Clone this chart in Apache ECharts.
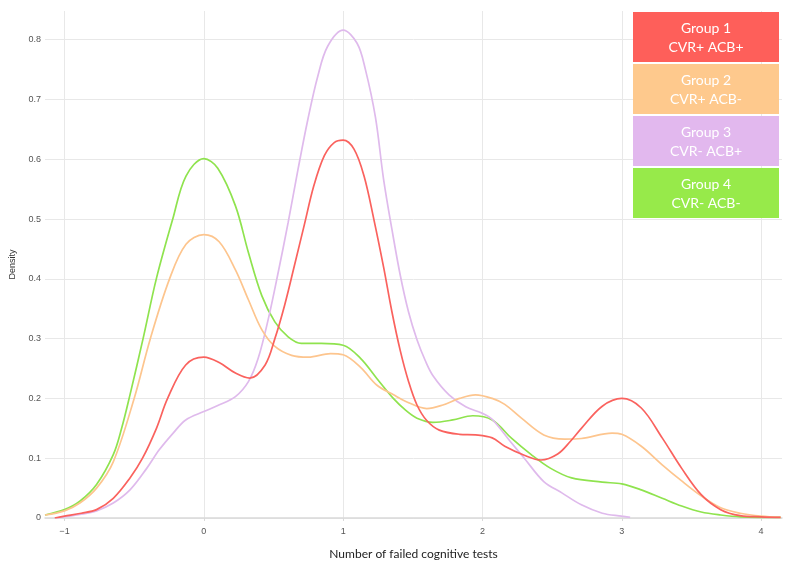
<!DOCTYPE html>
<html>
<head>
<meta charset="utf-8">
<script src="https://cdn.jsdelivr.net/npm/echarts@6/dist/echarts.min.js"></script>
<style>
  html, body { margin: 0; padding: 0; background: #fff; }
  #chart { width: 793px; height: 565px; }
</style>
</head>
<body>
<div id="chart"></div>
<script>
// density curves, [x, density]
var group1 = [[-1.07,0],[-1,0.003],[-0.88,0.008],[-0.77,0.014],[-0.65,0.033],[-0.53,0.067],[-0.44,0.1],[-0.34,0.15],[-0.26,0.2],[-0.13,0.256],[0,0.269],[0.11,0.26],[0.23,0.242],[0.33,0.234],[0.44,0.256],[0.51,0.3],[0.58,0.356],[0.65,0.422],[0.72,0.489],[0.79,0.556],[0.865,0.606],[0.936,0.628],[1,0.632],[1.078,0.617],[1.15,0.572],[1.22,0.5],[1.29,0.42],[1.35,0.345],[1.41,0.28],[1.47,0.228],[1.53,0.189],[1.6,0.163],[1.69,0.147],[1.835,0.14],[1.95,0.139],[2.07,0.134],[2.16,0.12],[2.3,0.105],[2.42,0.097],[2.54,0.107],[2.63,0.128],[2.71,0.15],[2.86,0.187],[3,0.2],[3.14,0.184],[3.29,0.134],[3.43,0.083],[3.57,0.039],[3.71,0.014],[3.85,0.004],[4,0.002],[4.14,0.001]];
var group2 = [[-1.14,0.005],[-1,0.012],[-0.89,0.025],[-0.77,0.05],[-0.65,0.094],[-0.5,0.2],[-0.384,0.3],[-0.246,0.4],[-0.128,0.458],[0,0.474],[0.11,0.462],[0.227,0.415],[0.32,0.365],[0.416,0.315],[0.51,0.287],[0.63,0.272],[0.75,0.269],[0.91,0.275],[1,0.273],[1.125,0.252],[1.243,0.222],[1.362,0.206],[1.45,0.195],[1.6,0.183],[1.716,0.189],[1.835,0.2],[1.95,0.206],[2.07,0.2],[2.16,0.19],[2.28,0.167],[2.44,0.139],[2.59,0.132],[2.71,0.133],[2.93,0.142],[3,0.14],[3.14,0.12],[3.29,0.089],[3.43,0.062],[3.57,0.037],[3.71,0.017],[3.85,0.008],[4,0.003],[4.14,0.001]];
var group3 = [[-1.06,0],[-0.89,0.006],[-0.77,0.012],[-0.65,0.025],[-0.53,0.047],[-0.41,0.083],[-0.32,0.114],[-0.22,0.142],[-0.13,0.164],[0,0.178],[0.1,0.188],[0.227,0.203],[0.32,0.228],[0.39,0.267],[0.463,0.333],[0.534,0.411],[0.605,0.494],[0.676,0.583],[0.747,0.667],[0.818,0.739],[0.889,0.789],[1,0.816],[1.1,0.794],[1.16,0.75],[1.232,0.67],[1.29,0.567],[1.35,0.483],[1.41,0.406],[1.47,0.344],[1.53,0.298],[1.59,0.263],[1.645,0.238],[1.76,0.206],[1.88,0.186],[2,0.175],[2.07,0.165],[2.2,0.128],[2.3,0.1],[2.44,0.061],[2.57,0.042],[2.71,0.022],[2.86,0.008],[3,0.003],[3.06,0.001]];
var group4 = [[-1.14,0.005],[-1,0.014],[-0.89,0.028],[-0.77,0.056],[-0.65,0.106],[-0.59,0.15],[-0.53,0.206],[-0.436,0.3],[-0.341,0.4],[-0.223,0.5],[-0.128,0.572],[0,0.601],[0.1,0.585],[0.227,0.522],[0.32,0.444],[0.416,0.372],[0.51,0.328],[0.605,0.303],[0.7,0.292],[0.842,0.292],[1,0.289],[1.125,0.267],[1.243,0.233],[1.36,0.2],[1.45,0.18],[1.53,0.167],[1.645,0.16],[1.787,0.164],[1.93,0.171],[2.07,0.164],[2.21,0.133],[2.35,0.106],[2.49,0.083],[2.64,0.067],[2.86,0.06],[3,0.057],[3.14,0.047],[3.29,0.033],[3.43,0.02],[3.57,0.01],[3.71,0.005],[3.85,0.002],[4.14,0.001]];

var groupNames = ['Group 1', 'Group 2', 'Group 3', 'Group 4'];
var groupLabels = ['CVR+ ACB+', 'CVR+ ACB-', 'CVR- ACB+', 'CVR- ACB-'];
var lineColors = ['#fa625e', '#fdc58e', '#dfbaec', '#8fe34e'];
var boxColors = ['#fe5f5a', '#fec98d', '#e2b8ee', '#97ea4a'];
var xTicks = [-1, 0, 1, 2, 3, 4];
var yTicks = [0, 0.1, 0.2, 0.3, 0.4, 0.5, 0.6, 0.7, 0.8];

var myChart = echarts.init(document.getElementById('chart'));

var allData = [group1, group2, group3, group4];
var series = [];
for (var i = 0; i < allData.length; i++) {
    series.push({
        name: groupNames[i],
        type: 'line',
        data: allData[i],
        smooth: 0.35,
        showSymbol: false,
        lineStyle: { color: lineColors[i], width: 1.7 },
        z: 10 - i
    });
}

// legend boxes, drawn as a little table top right
var graphics = [];
var boxTop = 12, boxH = 50, gap = 2;
for (var j = 0; j < groupNames.length; j++) {
    graphics.push({
        type: 'group',
        left: 633,
        top: boxTop + j * (boxH + gap),
        z: 100,
        children: [
            { type: 'rect', z: 100, shape: { x: 0, y: 0, width: 146, height: boxH }, style: { fill: boxColors[j] } },
            { type: 'text', z: 101, x: 73, y: 16, style: { text: groupNames[j], fill: '#fff', font: '14px Lato', align: 'center', verticalAlign: 'middle' } },
            { type: 'text', z: 101, x: 73, y: 35, style: { text: groupLabels[j], fill: '#fff', font: '14px Lato', align: 'center', verticalAlign: 'middle' } }
        ]
    });
}

var option = {
    animation: false,
    grid: { left: 38, right: 11, top: 11, bottom: 45 },
    xAxis: {
        type: 'value',
        min: -1.14,
        max: 4.15,
        name: 'Number of failed cognitive tests',
        nameLocation: 'middle',
        nameGap: 30,
        nameTextStyle: { fontFamily: 'Lato', fontSize: 12, color: '#222' },
        axisLine: { show: true, lineStyle: { color: '#d9d9d9', width: 1.5 } },
        axisTick: { show: true, customValues: xTicks, length: 3, lineStyle: { color: '#d9d9d9' } },
        axisLabel: {
            customValues: xTicks,
            fontFamily: 'Liberation Sans',
            fontSize: 9,
            color: '#555',
            margin: 9,
            formatter: function (v) { return v < 0 ? '\u2212' + Math.abs(v) : String(v); }
        },
        splitLine: { show: true, lineStyle: { color: '#e8e8e8', width: 1 } }
    },
    yAxis: {
        type: 'value',
        min: 0,
        max: 0.848,
        name: 'Density',
        nameLocation: 'middle',
        nameGap: 28,
        nameTextStyle: { fontFamily: 'Liberation Sans', fontSize: 9, color: '#333' },
        axisLine: { show: false },
        axisTick: { show: false, customValues: yTicks },
        axisLabel: {
            customValues: yTicks,
            fontFamily: 'Liberation Sans',
            fontSize: 9,
            color: '#555',
            margin: 4
        },
        splitLine: { show: true, lineStyle: { color: '#e8e8e8', width: 1 } }
    },
    graphic: graphics,
    series: series
};
myChart.setOption(option);
</script>
</body>
</html>
